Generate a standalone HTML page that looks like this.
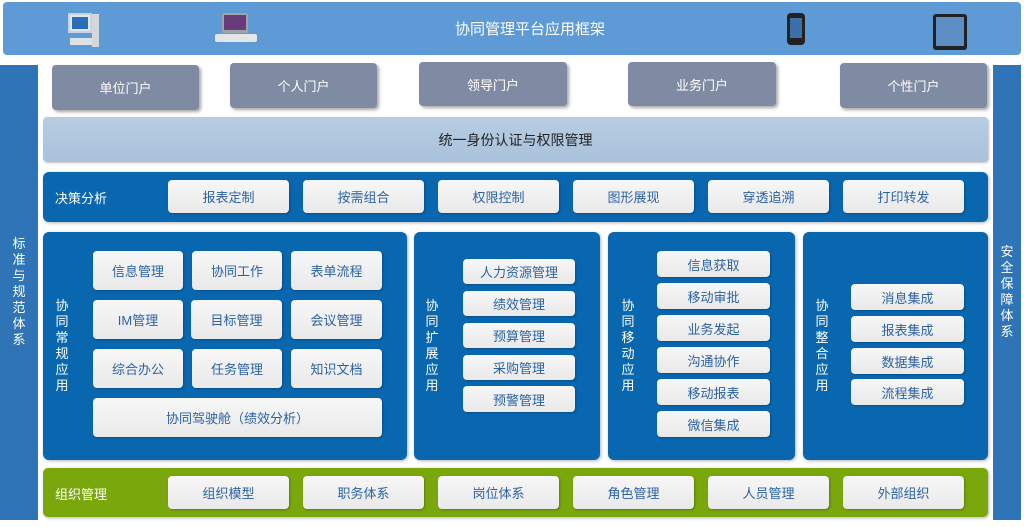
<!DOCTYPE html>
<html><head><meta charset="utf-8"><style>
*{margin:0;padding:0;box-sizing:border-box}
body{width:1024px;height:527px;background:#fff;position:relative;overflow:hidden;font-family:"Liberation Sans","Noto Sans CJK SC",sans-serif}
div{position:absolute}
.t{display:flex;align-items:center;justify-content:center}
.b{background:linear-gradient(#f7f7f7,#e9e9e9);border-radius:4px;color:#2b62a6;font-size:13px;display:flex;align-items:center;justify-content:center;box-shadow:1px 1px 2px rgba(0,0,0,.25)}
.p{background:#7f8ba2;border-radius:4px;color:#fff;font-size:13px;display:flex;align-items:center;justify-content:center;box-shadow:2px 2px 3px rgba(0,0,0,.35)}
.pan{background:#0967b0;border-radius:6px;box-shadow:1px 1px 3px rgba(0,0,0,.3)}
.v{color:#fff;font-size:13px;width:16px;line-height:16px;text-align:center;word-break:break-all}
</style></head><body>
<div style="left:3px;top:2px;width:1018px;height:53px;background:#5e9ad5;border-radius:4px"></div>
<div class="t" style="left:380px;top:2px;width:300px;height:53px;color:#fff;font-size:15px">协同管理平台应用框架</div>
<!-- icons -->
<div style="left:68px;top:13px;width:24px;height:20px;background:#dfe8f2;border:2px solid #c9d3dd"><div style="left:2px;top:2px;width:16px;height:12px;background:#2a6db8"></div></div>
<div style="left:92px;top:14px;width:7px;height:33px;background:#d4d8dc"></div>
<div style="left:70px;top:38px;width:22px;height:7px;background:#dde2e7"></div>
<div style="left:222px;top:13px;width:26px;height:20px;background:#a0a4a8;border-radius:2px"><div style="left:2px;top:2px;width:22px;height:15px;background:#6a3b7a"></div></div>
<div style="left:215px;top:34px;width:42px;height:8px;background:#e3e6e9;border-radius:2px"></div>
<div style="left:787px;top:13px;width:18px;height:32px;background:#222;border-radius:4px"><div style="left:3px;top:5px;width:12px;height:20px;background:#3a6fa8"></div></div>
<div style="left:933px;top:14px;width:34px;height:36px;background:#222;border-radius:3px"><div style="left:3px;top:3px;width:28px;height:29px;background:#5b8fc6"></div></div>
<!-- sidebars -->
<div style="left:0;top:65px;width:38px;height:455px;background:#2e74b7"></div>
<div class="v" style="left:11px;top:236px;color:#fff">标准与规范体系</div>
<div style="left:993px;top:65px;width:28px;height:455px;background:#2e74b7"></div>
<div class="v" style="left:999px;top:244px">安全保障体系</div>
<!-- portals -->
<div class="p" style="left:52px;top:65px;width:147px;height:45px">单位门户</div>
<div class="p" style="left:230px;top:63px;width:147px;height:45px">个人门户</div>
<div class="p" style="left:419px;top:62px;width:148px;height:44px">领导门户</div>
<div class="p" style="left:628px;top:62px;width:148px;height:44px">业务门户</div>
<div class="p" style="left:840px;top:63px;width:147px;height:45px">个性门户</div>
<!-- auth -->
<div class="t" style="left:43px;top:117px;width:945px;height:45px;background:linear-gradient(#b7cde3,#a9c1da);border-radius:4px;color:#222;font-size:14px;box-shadow:1px 1px 2px rgba(0,0,0,.25)">统一身份认证与权限管理</div>
<!-- decision -->
<div class="pan" style="left:43px;top:172px;width:945px;height:50px"></div>
<div style="left:55px;top:188px;color:#fff;font-size:13px">决策分析</div>
<div class="b" style="left:168px;top:180px;width:121px;height:33px">报表定制</div>
<div class="b" style="left:303px;top:180px;width:121px;height:33px">按需组合</div>
<div class="b" style="left:438px;top:180px;width:121px;height:33px">权限控制</div>
<div class="b" style="left:573px;top:180px;width:121px;height:33px">图形展现</div>
<div class="b" style="left:708px;top:180px;width:121px;height:33px">穿透追溯</div>
<div class="b" style="left:843px;top:180px;width:121px;height:33px">打印转发</div>
<!-- panels -->
<div class="pan" style="left:43px;top:232px;width:364px;height:228px"></div>
<div class="v" style="left:54px;top:298px">协同常规应用</div>
<div class="b" style="left:93px;top:251px;width:90px;height:39px">信息管理</div>
<div class="b" style="left:192px;top:251px;width:90px;height:39px">协同工作</div>
<div class="b" style="left:291px;top:251px;width:91px;height:39px">表单流程</div>
<div class="b" style="left:93px;top:300px;width:90px;height:39px">IM管理</div>
<div class="b" style="left:191px;top:300px;width:91px;height:39px">目标管理</div>
<div class="b" style="left:291px;top:300px;width:91px;height:39px">会议管理</div>
<div class="b" style="left:93px;top:349px;width:90px;height:39px">综合办公</div>
<div class="b" style="left:192px;top:349px;width:90px;height:39px">任务管理</div>
<div class="b" style="left:291px;top:349px;width:91px;height:39px">知识文档</div>
<div class="b" style="left:93px;top:398px;width:289px;height:39px">协同驾驶舱（绩效分析）</div>

<div class="pan" style="left:414px;top:232px;width:186px;height:228px"></div>
<div class="v" style="left:424px;top:298px">协同扩展应用</div>
<div class="b" style="left:463px;top:259px;width:112px;height:25px">人力资源管理</div>
<div class="b" style="left:463px;top:291px;width:112px;height:25px">绩效管理</div>
<div class="b" style="left:463px;top:323px;width:112px;height:25px">预算管理</div>
<div class="b" style="left:463px;top:355px;width:112px;height:25px">采购管理</div>
<div class="b" style="left:463px;top:386px;width:112px;height:26px">预警管理</div>

<div class="pan" style="left:608px;top:232px;width:187px;height:228px"></div>
<div class="v" style="left:620px;top:298px">协同移动应用</div>
<div class="b" style="left:657px;top:251px;width:113px;height:26px">信息获取</div>
<div class="b" style="left:657px;top:283px;width:113px;height:26px">移动审批</div>
<div class="b" style="left:657px;top:315px;width:113px;height:26px">业务发起</div>
<div class="b" style="left:657px;top:347px;width:113px;height:26px">沟通协作</div>
<div class="b" style="left:657px;top:379px;width:113px;height:26px">移动报表</div>
<div class="b" style="left:657px;top:411px;width:113px;height:26px">微信集成</div>

<div class="pan" style="left:803px;top:232px;width:185px;height:228px"></div>
<div class="v" style="left:814px;top:298px">协同整合应用</div>
<div class="b" style="left:851px;top:284px;width:113px;height:26px">消息集成</div>
<div class="b" style="left:851px;top:316px;width:113px;height:26px">报表集成</div>
<div class="b" style="left:851px;top:348px;width:113px;height:26px">数据集成</div>
<div class="b" style="left:851px;top:379px;width:113px;height:26px">流程集成</div>
<!-- org -->
<div style="left:43px;top:468px;width:945px;height:49px;background:#79a70c;border-radius:5px;box-shadow:1px 1px 3px rgba(0,0,0,.3)"></div>
<div style="left:55px;top:484px;color:#fff;font-size:13px">组织管理</div>
<div class="b" style="left:168px;top:476px;width:121px;height:33px">组织模型</div>
<div class="b" style="left:303px;top:476px;width:121px;height:33px">职务体系</div>
<div class="b" style="left:438px;top:476px;width:121px;height:33px">岗位体系</div>
<div class="b" style="left:573px;top:476px;width:121px;height:33px">角色管理</div>
<div class="b" style="left:708px;top:476px;width:121px;height:33px">人员管理</div>
<div class="b" style="left:843px;top:476px;width:121px;height:33px">外部组织</div>
</body></html>
